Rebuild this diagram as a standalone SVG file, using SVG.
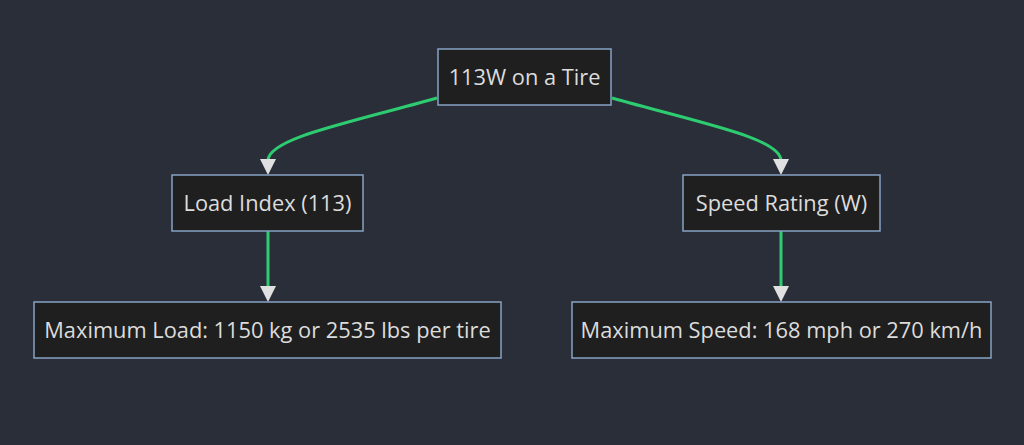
<svg xmlns="http://www.w3.org/2000/svg" width="1024" height="445" viewBox="0 0 1024 445">
<style>
.node rect{fill:#1f1f1f;stroke:#86a3c3;stroke-width:1.5}
.node text{fill:#dcdcdc;font-family:"Open Sans","Noto Sans","DejaVu Sans",sans-serif;font-size:21.8px;text-anchor:middle;dominant-baseline:central}
.edge{fill:none;stroke:#2ecc71;stroke-width:3}
.head{fill:#e0e0e0}
</style>
<rect width="1024" height="445" fill="#2a2e39"/>
<g id="connectors">
<path class="edge" d="M437,98 C345,124 270,138 268,160"/>
<path class="head" d="M260,159 L276,159 L268,175 Z"/>
<path class="edge" d="M612,98 C704,124 779,138 781,160"/>
<path class="head" d="M773,159 L789,159 L781,175 Z"/>
<path class="edge" d="M268,231 L268,287"/>
<path class="head" d="M260,286 L276,286 L268,302 Z"/>
<path class="edge" d="M781,231 L781,287"/>
<path class="head" d="M773,286 L789,286 L781,302 Z"/>
</g>
<g id="tire" class="node">
<rect x="438" y="49" width="173" height="56"/>
<text x="524.5" y="76">113W on a Tire</text>
</g>
<g id="load" class="node">
<rect x="172" y="175" width="191" height="56"/>
<text x="267.5" y="202">Load Index (113)</text>
</g>
<g id="speed" class="node">
<rect x="683" y="175" width="197" height="56"/>
<text x="781.5" y="202">Speed Rating (W)</text>
</g>
<g id="maxload" class="node">
<rect x="34" y="302" width="467" height="56"/>
<text x="267.5" y="329">Maximum Load: 1150 kg or 2535 lbs per tire</text>
</g>
<g id="maxspeed" class="node">
<rect x="572" y="302" width="419" height="56"/>
<text x="781.5" y="329">Maximum Speed: 168 mph or 270 km/h</text>
</g>
</svg>
